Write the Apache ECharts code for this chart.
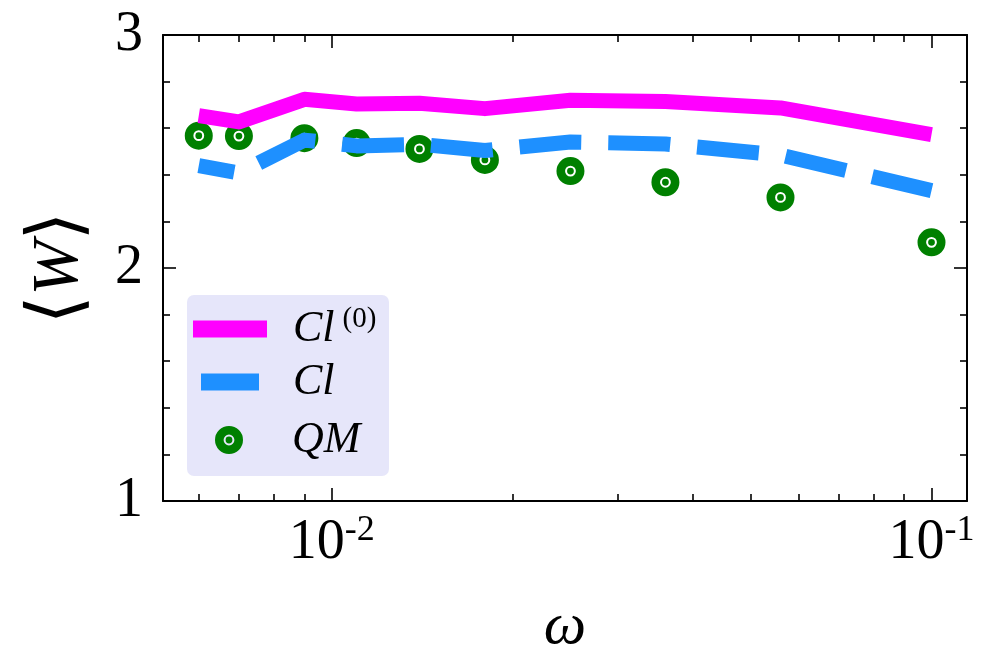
<!DOCTYPE html>
<html>
<head>
<meta charset="utf-8">
<script src="https://cdn.jsdelivr.net/npm/echarts@6/dist/echarts.min.js"></script>
<style>
    html, body {margin: 0; padding: 0; background: #fff;}
    #main {width: 995px; height: 669px;}
</style>
</head>
<body>
<div id="main"></div>
<script>
// frequencies (log axis)
var omega = [0.006, 0.007, 0.009, 0.011, 0.014, 0.018, 0.025, 0.036, 0.056, 0.1];
// Cl^(0) classical, zeroth order
var cl0 = [2.654, 2.627, 2.724, 2.704, 2.707, 2.684, 2.720, 2.715, 2.687, 2.572];
// Cl classical
var cl = [2.439, 2.408, 2.549, 2.524, 2.531, 2.504, 2.541, 2.532, 2.485, 2.332];
// QM quantum
var qm = [2.568, 2.566, 2.557, 2.536, 2.511, 2.464, 2.416, 2.368, 2.303, 2.110];

// tick values
var xMajorTicks = [0.01, 0.1];
var xMinorTicks = [0.006, 0.007, 0.008, 0.009, 0.02, 0.03, 0.04, 0.05, 0.06, 0.07, 0.08, 0.09];
var xMin = 0.00523, xMax = 0.1146;

var serif = "'Liberation Serif', 'DejaVu Serif', serif";
// donut marker: green disc with a white ring
var qmSymbol = 'path://M0,14A14,14,0,1,0,28,14A14,14,0,1,0,0,14Z' +
    'M8.6,14A5.4,5.4,0,1,1,19.4,14A5.4,5.4,0,1,1,8.6,14Z' +
    'M10.6,14A3.4,3.4,0,1,0,17.4,14A3.4,3.4,0,1,0,10.6,14Z';

function pairs(xs, ys) {
    var out = [];
    for (var i = 0; i < xs.length; i++) {
        out.push([xs[i], ys[i]]);
    }
    return out;
}

function xAxisCfg(pos, ticks, len, withLine, withLabel) {
    return {
        type: 'log',
        logBase: 10,
        position: pos,
        min: xMin,
        max: xMax,
        gridIndex: 0,
        axisLine: {show: withLine, onZero: false, lineStyle: {color: '#000', width: 2}},
        axisTick: {show: true, inside: true, length: len, customValues: ticks, lineStyle: {color: '#000', width: 1.6}},
        axisLabel: withLabel ? {
            show: true,
            customValues: xMajorTicks,
            margin: 12,
            formatter: function (v) {
                return '{b|10}{e|' + Math.round(Math.log10(v)) + '}';
            },
            rich: {
                b: {fontFamily: serif, fontSize: 56, color: '#000', lineHeight: 60},
                e: {fontFamily: serif, fontSize: 36, color: '#000', verticalAlign: 'top', lineHeight: 36}
            }
        } : {show: false},
        splitLine: {show: false},
        minorTick: {show: false},
        name: withLabel ? 'ω' : '',
        nameLocation: 'middle',
        nameGap: 96,
        nameTextStyle: {fontFamily: serif, fontStyle: 'italic', fontSize: 60, color: '#000'}
    };
}

function yAxisCfg(pos, withLabel) {
    return {
        type: 'value',
        position: pos,
        min: 1,
        max: 3,
        interval: 1,
        axisLine: {show: true, onZero: false, lineStyle: {color: '#000', width: 2}},
        axisTick: {show: true, inside: true, length: 13, lineStyle: {color: '#000', width: 1.6}},
        minorTick: {show: true, splitNumber: 5, length: 7, lineStyle: {color: '#000', width: 1.6}},
        splitLine: {show: false},
        axisLabel: {show: withLabel, fontFamily: serif, fontSize: 56, color: '#000', margin: 20},
        name: withLabel ? '{a|\u27E8}{w|W}{a|\u27E9}' : '',
        nameLocation: 'middle',
        nameGap: 66,
        nameTextStyle: {
            rich: {
                a: {fontFamily: serif, fontSize: 74, color: '#000'},
                w: {fontFamily: serif, fontStyle: 'italic', fontSize: 66, color: '#000'}
            }
        }
    };
}

var chart = echarts.init(document.getElementById('main'), null, {renderer: 'canvas'});

var option = {
    animation: false,
    backgroundColor: '#fff',
    grid: {left: 163, right: 28, top: 35, bottom: 168, containLabel: false},
    xAxis: [
        xAxisCfg('bottom', xMajorTicks, 13, true, true),
        xAxisCfg('bottom', xMinorTicks, 7, false, false),
        xAxisCfg('top', xMajorTicks, 13, true, false),
        xAxisCfg('top', xMinorTicks, 7, false, false)
    ],
    yAxis: [
        yAxisCfg('left', true),
        yAxisCfg('right', false)
    ],
    graphic: [{
        type: 'rect',
        left: 187,
        top: 295,
        z: 5,
        shape: {width: 202, height: 181, r: 7},
        style: {fill: '#e6e6fa'}
    }],
    legend: [{
        left: 193, top: 305, padding: 0, z: 10,
        itemWidth: 74, itemHeight: 17,
        data: [{name: 'Cl(0)', icon: 'rect'}],
        formatter: function () { return '{i|Cl}{s|(0)}'; },
        textStyle: {
            rich: {
                i: {fontFamily: serif, fontStyle: 'italic', fontSize: 44, color: '#000', lineHeight: 48, padding: [0, 0, 0, 21]},
                s: {fontFamily: serif, fontSize: 29, color: '#000', verticalAlign: 'top', lineHeight: 30, padding: [0, 0, 0, 8]}
            }
        }
    }, {
        left: 201, top: 360, padding: 0, z: 10,
        itemWidth: 58, itemHeight: 17,
        data: [{name: 'Cl', icon: 'rect'}],
        formatter: function () { return '{i|Cl}'; },
        textStyle: {
            rich: {
                i: {fontFamily: serif, fontStyle: 'italic', fontSize: 44, color: '#000', lineHeight: 48, padding: [0, 0, 0, 29]}
            }
        }
    }, {
        left: 215, top: 418, padding: 0, z: 10,
        itemWidth: 28, itemHeight: 28,
        data: [{name: 'QM', icon: qmSymbol}],
        formatter: function () { return '{i|QM}'; },
        textStyle: {
            rich: {
                i: {fontFamily: serif, fontStyle: 'italic', fontSize: 44, color: '#000', lineHeight: 48, padding: [0, 0, 0, 44]}
            }
        }
    }],
    series: [{
        name: 'QM',
        type: 'scatter',
        z: 1,
        symbol: qmSymbol,
        symbolSize: 28,
        itemStyle: {color: '#008000', opacity: 1},
        data: pairs(omega, qm)
    }, {
        name: 'Cl(0)',
        type: 'line',
        z: 2,
        showSymbol: false,
        symbol: 'none',
        lineStyle: {color: '#ff00ff', width: 15, join: 'round'},
        itemStyle: {color: '#ff00ff'},
        data: pairs(omega, cl0)
    }, {
        name: 'Cl',
        type: 'line',
        z: 3,
        showSymbol: false,
        symbol: 'none',
        lineStyle: {color: '#1e90ff', width: 15, type: [62, 27], dashOffset: 26, cap: 'butt', join: 'round'},
        itemStyle: {color: '#1e90ff'},
        data: pairs(omega, cl)
    }]
};

chart.setOption(option);
</script>
</body>
</html>
